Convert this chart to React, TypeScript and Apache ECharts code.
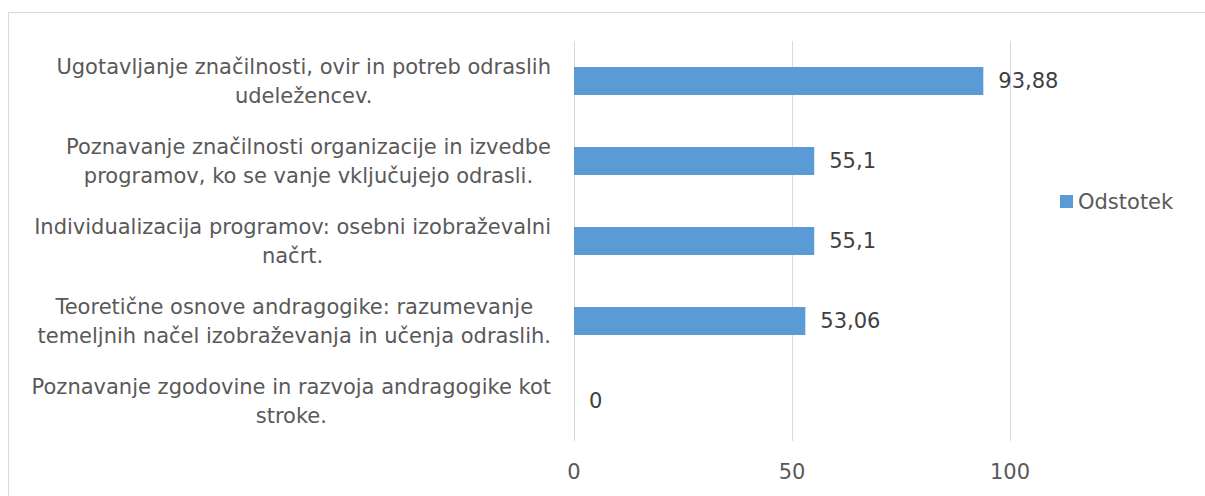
import React, { useEffect, useRef } from "react";
import * as echarts from "echarts";

const categories: string[] = [
  "Ugotavljanje značilnosti, ovir in potreb odraslih\nudeležencev.",
  "Poznavanje značilnosti organizacije in izvedbe\nprogramov, ko se vanje vključujejo odrasli.",
  "Individualizacija programov: osebni izobraževalni\nnačrt.",
  "Teoretične osnove andragogike: razumevanje\ntemeljnih načel izobraževanja in učenja odraslih.",
  "Poznavanje zgodovine in razvoja andragogike kot\nstroke.",
];
const values: number[] = [93.88, 55.1, 55.1, 53.06, 0];
const seriesName = "Odstotek";
const axisMin = 0;
const axisMax = 100;
const axisInterval = 50;

const FONT = "'DejaVu Sans', Verdana, Tahoma, sans-serif";
const FS = 21;

export default function App() {
  const ref = useRef<HTMLDivElement>(null);
  useEffect(() => {
    if (!ref.current) return;
    const chart = echarts.init(ref.current, undefined, { renderer: "svg" });
    chart.setOption({
      animation: false,
      backgroundColor: "#ffffff",
      textStyle: { fontFamily: FONT },
      graphic: [
        {
          type: "line",
          silent: true,
          shape: { x1: 8.5, y1: 12.5, x2: 1205, y2: 12.5 },
          style: { stroke: "#d9d9d9", lineWidth: 1 },
        },
        {
          type: "line",
          silent: true,
          shape: { x1: 8.5, y1: 12.5, x2: 8.5, y2: 496 },
          style: { stroke: "#d9d9d9", lineWidth: 1 },
        },
      ],
      legend: {
        show: true,
        left: 1055,
        top: 186,
        orient: "vertical",
        icon: "rect",
        itemWidth: 13,
        itemHeight: 13,
        textStyle: { color: "#595959", fontSize: FS, fontFamily: FONT },
        data: [seriesName],
      },
      grid: { left: 574, right: 195, top: 41, bottom: 55, containLabel: false },
      xAxis: {
        type: "value",
        min: axisMin,
        max: axisMax,
        interval: axisInterval,
        axisLine: { show: false },
        axisTick: { show: false },
        splitLine: { show: true, lineStyle: { color: "#d9d9d9", width: 1 } },
        axisLabel: { color: "#595959", fontSize: FS, fontFamily: FONT, margin: 20 },
      },
      yAxis: {
        type: "category",
        inverse: true,
        data: categories,
        axisLine: { show: false },
        axisTick: { show: false },
        splitLine: { show: false },
        axisLabel: {
          margin: 23,
          formatter: (v: string) =>
            v
              .split("\n")
              .map((l) => `{c|${l}}`)
              .join("\n"),
          rich: {
            c: {
              align: "center",
              color: "#595959",
              fontSize: FS,
              fontFamily: FONT,
              lineHeight: 29,
            },
          },
        },
      },
      series: [
        {
          name: seriesName,
          type: "bar",
          data: values,
          barWidth: 28,
          itemStyle: { color: "#5b9bd5" },
          label: {
            show: true,
            position: "right",
            distance: 15,
            color: "#404040",
            fontSize: FS,
            fontFamily: FONT,
            formatter: (p: any) => String(p.value).replace(".", ","),
          },
        },
      ],
    });
    return () => chart.dispose();
  }, []);
  return (
    <div
      ref={ref}
      style={{ position: "absolute", left: 0, top: 0, width: 1205, height: 496 }}
    />
  );
}
